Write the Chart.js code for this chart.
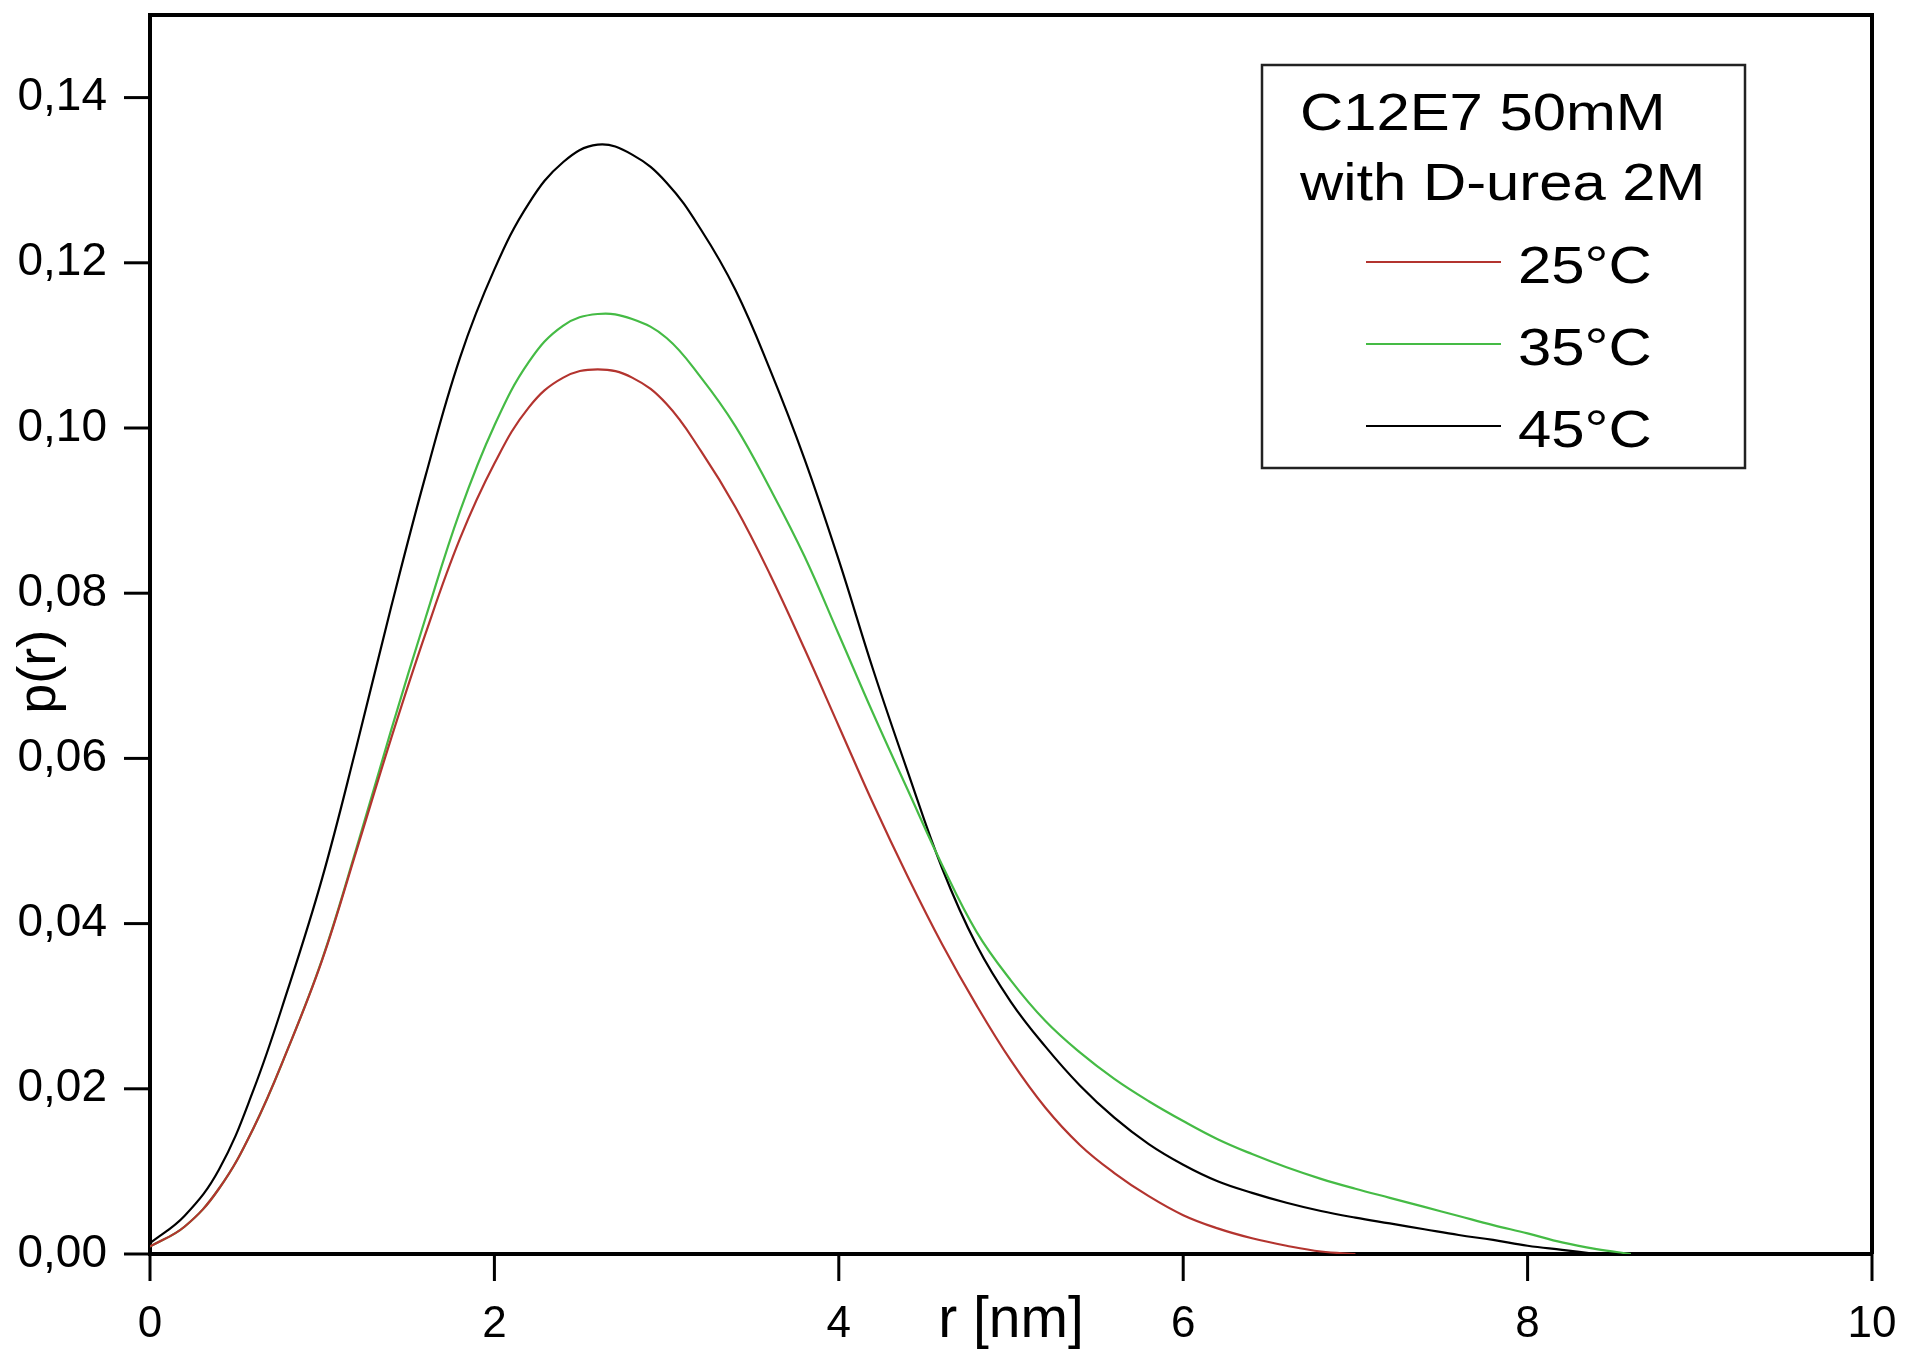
<!DOCTYPE html>
<html>
<head>
<meta charset="utf-8">
<title>p(r) C12E7 50mM with D-urea 2M</title>
<script src="https://cdn.jsdelivr.net/npm/chart.js"></script>
<style>
  html, body { margin: 0; padding: 0; background: #fff; }
  #grafico { display: block; }
</style>
</head>
<body>
<canvas id="grafico" width="1909" height="1356"></canvas>
<script>
// r [nm], read every 0.2 nm
const raio = [0, 0.2, 0.4, 0.6, 0.8, 1.0, 1.2, 1.4, 1.6, 1.8,
              2.0, 2.2, 2.4, 2.6, 2.8, 3.0, 3.2, 3.4, 3.6, 3.8,
              4.0, 4.2, 4.4, 4.6, 4.8, 5.0, 5.2, 5.4, 5.6, 5.8,
              6.0, 6.2, 6.4, 6.6, 6.8, 7.0, 7.2, 7.4, 7.6, 7.8,
              8.0, 8.2, 8.4, 8.6];

// 25 °C (red)
const p25 = [0.0009, 0.0033, 0.0079, 0.0152, 0.0248, 0.0356, 0.0489, 0.0624, 0.0751, 0.0866,
             0.0957, 0.1025, 0.1061, 0.1071, 0.1061, 0.1029, 0.0972, 0.0904, 0.0823, 0.0733,
             0.0639, 0.0545, 0.0457, 0.0375, 0.0301, 0.0234, 0.0177, 0.0132, 0.0098, 0.0070,
             0.0047, 0.0031, 0.0019, 0.0010, 0.0003, 0];

// 35 °C (green)
const p35 = [0.0009, 0.0033, 0.0079, 0.0152, 0.0248, 0.0357, 0.0492, 0.0634, 0.0770, 0.0899,
             0.1003, 0.1080, 0.1124, 0.1138, 0.1132, 0.1109, 0.1061, 0.1002, 0.0927, 0.0845,
             0.0750, 0.0654, 0.0562, 0.0471, 0.0390, 0.0331, 0.0282, 0.0244, 0.0212, 0.0185,
             0.0161, 0.0139, 0.0121, 0.0105, 0.0091, 0.0079, 0.0068, 0.0057, 0.0046, 0.0035,
             0.0025, 0.0014, 0.0006, 0];

// 45 °C (black)
const p45 = [0.0013, 0.0046, 0.0102, 0.0198, 0.0320, 0.0455, 0.0615, 0.0783, 0.0942, 0.1085,
             0.1192, 0.1272, 0.1322, 0.1343, 0.1331, 0.1297, 0.1240, 0.1167, 0.1071, 0.0963,
             0.0840, 0.0707, 0.0584, 0.0467, 0.0374, 0.0305, 0.0251, 0.0204, 0.0165, 0.0133,
             0.0108, 0.0088, 0.0074, 0.0062, 0.0052, 0.0044, 0.0037, 0.0030, 0.0023, 0.0017,
             0.0010, 0.0005, 0];

const rotulos = ['25°C', '35°C', '45°C'];
const legendaTitulo = ['C12E7 50mM', 'with D-urea 2M'];
const tituloX = 'r [nm]';
const tituloY = 'p(r)';
const xMaiores = [0, 2, 4, 6, 8, 10];
const yMaiores = [0, 0.02, 0.04, 0.06, 0.08, 0.10, 0.12, 0.14];

const FONTE = "'Liberation Sans', Arial, sans-serif";
const ESTICA = 1.15; // the original lettering is a bit wide

function pontos(p) {
    return p.map(function (v, i) { return { x: raio[i], y: v }; });
}

function ehMaior(lista, v) {
    return lista.some(function (m) { return Math.abs(m - v) < 1e-6; });
}

function semPadding(s) {
    s.paddingTop = 0;
    s.paddingBottom = 0;
    s.paddingLeft = 0;
    s.paddingRight = 0;
}

// tick marks (outside), top/right frame and the y title
const marcasEixos = {
    id: 'marcasEixos',
    afterDraw(chart) {
        const ctx = chart.ctx;
        const a = chart.chartArea;
        const sx = chart.scales.x;
        const sy = chart.scales.y;
        ctx.save();
        ctx.strokeStyle = '#000';
        ctx.lineWidth = 4;
        ctx.beginPath();
        ctx.moveTo(a.left, a.top);
        ctx.lineTo(a.right, a.top);
        ctx.lineTo(a.right, a.bottom);
        ctx.stroke();

        ctx.lineWidth = 3;
        sx.ticks.forEach(function (t) {
            const px = sx.getPixelForValue(t.value);
            const len = ehMaior(xMaiores, t.value) ? 27 : 15;
            ctx.beginPath();
            ctx.moveTo(px, a.bottom);
            ctx.lineTo(px, a.bottom + len);
            ctx.stroke();
        });
        sy.ticks.forEach(function (t) {
            const py = sy.getPixelForValue(t.value);
            const len = ehMaior(yMaiores, t.value) ? 26 : 13;
            ctx.beginPath();
            ctx.moveTo(a.left, py);
            ctx.lineTo(a.left - len, py);
            ctx.stroke();
        });

        // p(r) sits a little below the middle of the axis, between 0,06 and 0,08
        ctx.translate(40, sy.getPixelForValue(0.0705));
        ctx.rotate(-Math.PI / 2);
        ctx.fillStyle = '#000';
        ctx.font = '54px ' + FONTE;
        ctx.textAlign = 'center';
        ctx.textBaseline = 'middle';
        ctx.fillText(tituloY, 0, 0);
        ctx.restore();
    }
};

// legend box inside the plot
const legendaCaixa = {
    id: 'legendaCaixa',
    afterDraw(chart, args, opts) {
        const ctx = chart.ctx;
        ctx.save();
        ctx.lineWidth = 2.5;
        ctx.strokeStyle = '#222';
        ctx.strokeRect(opts.x, opts.y, opts.w, opts.h);

        ctx.fillStyle = '#000';
        ctx.font = opts.tamanho + 'px ' + FONTE;
        ctx.textAlign = 'left';
        ctx.textBaseline = 'alphabetic';

        function texto(t, x, y) {
            ctx.save();
            ctx.translate(x, y);
            ctx.scale(ESTICA, 1);
            ctx.fillText(t, 0, 0);
            ctx.restore();
        }

        legendaTitulo.forEach(function (t, i) {
            texto(t, opts.x + 38, opts.y + 65 + i * 70);
        });

        chart.data.datasets.forEach(function (ds, i) {
            const yl = opts.y + 197 + i * 82;
            ctx.strokeStyle = ds.borderColor;
            ctx.lineWidth = 2;
            ctx.beginPath();
            ctx.moveTo(opts.x + 104, yl);
            ctx.lineTo(opts.x + 239, yl);
            ctx.stroke();
            texto(ds.label, opts.x + 256, yl + 21);
        });
        ctx.restore();
    }
};

Chart.defaults.font.family = FONTE;
Chart.defaults.color = '#000';

const ctx = document.getElementById('grafico').getContext('2d');

window.graficoPr = new Chart(ctx, {
    type: 'line',
    data: {
        datasets: [
            { label: rotulos[0], data: pontos(p25), borderColor: '#b3342f', borderWidth: 2.2 },
            { label: rotulos[1], data: pontos(p35), borderColor: '#45bb45', borderWidth: 2.2 },
            { label: rotulos[2], data: pontos(p45), borderColor: '#000000', borderWidth: 2.2 }
        ]
    },
    options: {
        responsive: false,
        animation: false,
        devicePixelRatio: 1,
        elements: {
            point: { radius: 0 },
            line: { tension: 0.4, fill: false }
        },
        layout: { padding: { top: 15, right: 37, left: 0, bottom: 0 } },
        plugins: {
            legend: { display: false },
            tooltip: { enabled: false },
            legendaCaixa: { x: 1262, y: 65, w: 483, h: 403, tamanho: 52 }
        },
        scales: {
            x: {
                type: 'linear',
                min: 0,
                max: 10,
                grid: { display: false, drawTicks: false },
                border: { display: true, color: '#000', width: 4 },
                ticks: {
                    stepSize: 1,
                    autoSkip: false,
                    maxRotation: 0,
                    padding: 44,
                    font: { size: 44 },
                    callback: function (v) { return ehMaior(xMaiores, v) ? String(v) : null; }
                },
                title: { display: true, text: tituloX, font: { size: 57 }, padding: { top: 0, bottom: 1 } },
                afterFit: function (s) { s.height = 102; semPadding(s); }
            },
            y: {
                type: 'linear',
                min: 0,
                max: 0.15,
                grid: { display: false, drawTicks: false },
                border: { display: true, color: '#000', width: 4 },
                ticks: {
                    stepSize: 0.01,
                    autoSkip: false,
                    padding: 43,
                    font: { size: 46 },
                    callback: function (v) { return ehMaior(yMaiores, v) ? v.toFixed(2).replace('.', ',') : null; }
                },
                afterFit: function (s) { s.width = 150; semPadding(s); }
            }
        }
    },
    plugins: [marcasEixos, legendaCaixa]
});
</script>
</body>
</html>
